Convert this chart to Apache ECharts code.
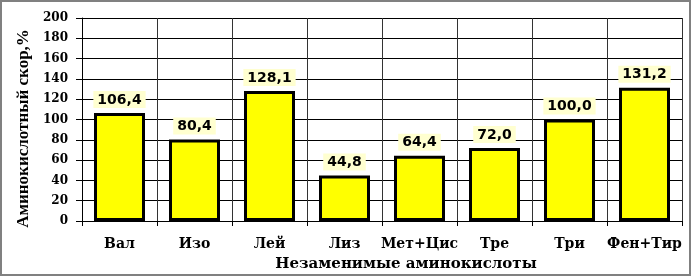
<!DOCTYPE html>
<html><head><meta charset="utf-8">
<script src="https://cdn.jsdelivr.net/npm/echarts@6/dist/echarts.min.js"></script>
<style>html,body{margin:0;padding:0;background:#fff}#c{width:692px;height:277px}</style>
</head><body><div id="c"></div>
<script>
const categories = ['Вал','Изо','Лей','Лиз','Мет+Цис','Тре','Три','Фен+Тир'];
const values = [106.4, 80.4, 128.1, 44.8, 64.4, 72.0, 100.0, 131.2];
const yTicks = [0,20,40,60,80,100,120,140,160,180,200];
const xName = 'Незаменимые аминокислоты';
const yName = 'Аминокислотный скор,%';

const chart = echarts.init(document.getElementById('c'));
const serif = '"Liberation Serif","Times New Roman",serif';
const wideSerif = '"DejaVu Serif",serif';
chart.setOption({
  animation:false,
  grid:{left:82,right:10,top:18,bottom:54},
  graphic:[{type:'rect',shape:{x:1,y:1,width:689,height:274},style:{fill:'none',stroke:'#808080',lineWidth:2},z:-1}],
  xAxis:{
    type:'category', data:categories,
    name:xName, nameLocation:'middle', nameGap:36,
    nameTextStyle:{fontFamily:wideSerif,fontWeight:'bold',fontSize:15,color:'#000',padding:[0,0,0,48]},
    axisLine:{lineStyle:{color:'#000',width:1}},
    axisTick:{show:true,length:5,lineStyle:{color:'#000'}},
    axisLabel:{fontFamily:wideSerif,fontWeight:'bold',fontSize:14,color:'#000',margin:16,interval:0},
    splitLine:{show:true,interval:0,lineStyle:{color:'#333',width:1}}
  },
  yAxis:{
    type:'value', min:yTicks[0], max:yTicks[yTicks.length-1], interval:yTicks[1]-yTicks[0],
    name:yName, nameLocation:'middle', nameGap:41,
    nameTextStyle:{fontFamily:serif,fontWeight:'bold',fontSize:17,color:'#000',padding:[0,18,0,0]},
    axisLine:{show:true,lineStyle:{color:'#000'}},
    axisTick:{show:true,length:6,lineStyle:{color:'#000'}},
    axisLabel:{fontFamily:wideSerif,fontWeight:'bold',fontSize:12,color:'#000',margin:14},
    splitLine:{show:true,lineStyle:{color:'#000',width:1}}
  },
  series:[{
    type:'bar', data:values, barWidth:'68%',
    itemStyle:{color:'#FFFF00',borderColor:'#000',borderWidth:3},
    label:{show:true,position:'top',distance:5,
      formatter:p=>p.value.toFixed(1).replace('.',','),
      fontFamily:'"DejaVu Sans",sans-serif',fontWeight:'bold',fontSize:14,color:'#000',
      backgroundColor:'#FFFFD0',padding:[2,4,1,4]}
  }]
});
</script></body></html>
